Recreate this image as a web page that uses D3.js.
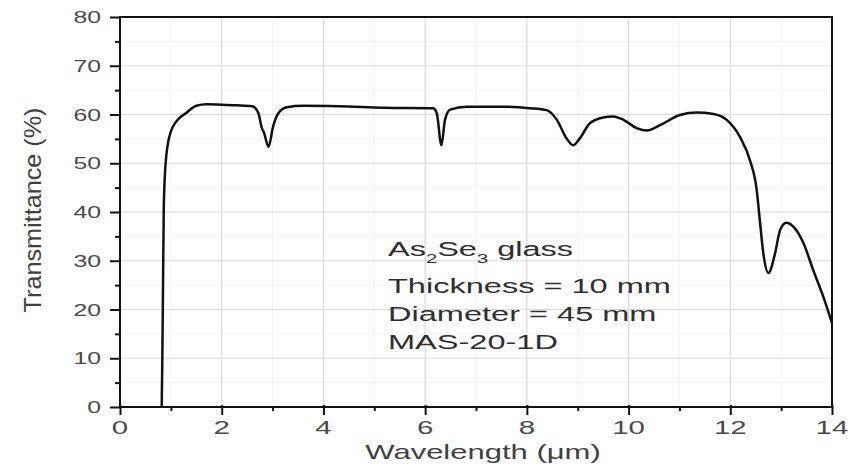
<!DOCTYPE html>
<html lang="en">
<head>
    <script src='https://d3js.org/d3.v7.min.js'></script>
</head>
<style>
  body { margin: 0; background: #fff; }
  text { font-family: "Liberation Sans", Arial, sans-serif; }
</style>
<body>
<script>
// Transmission spectrum, wavelength (um) vs transmittance (%)
const wavelength = [0.82, 0.83, 0.84, 0.85, 0.86, 0.88, 0.91, 0.95, 1.0, 1.1, 1.3, 1.5, 1.7, 2.0, 2.3, 2.6,
  2.72, 2.79, 2.83, 2.92, 3.01, 3.11, 3.28, 3.6, 4.3, 5.2, 6.16, 6.23, 6.32, 6.39, 6.49, 6.82, 7.5, 8.06,
  8.39, 8.59, 8.78, 8.91, 9.04, 9.24, 9.5, 9.7, 9.9, 10.16, 10.36, 10.62, 11.01, 11.34, 11.67, 11.93,
  12.19, 12.39, 12.52, 12.58, 12.65, 12.75, 12.88, 12.98, 13.1, 13.24, 13.44, 13.63, 13.83, 14.0];
const transmittance = [0, 8, 18, 30, 40, 47, 51.5, 54.5, 56.5, 58.5, 60.3, 61.8, 62.1, 62.0, 61.9, 61.7,
  60.3, 57.2, 56.3, 53.4, 57.5, 60.2, 61.5, 61.8, 61.7, 61.4, 61.3, 60.2, 53.7, 58.9, 61.0, 61.6, 61.6, 61.3,
  60.9, 58.9, 55.1, 53.7, 55.1, 58.2, 59.4, 59.6, 58.9, 57.2, 56.7, 57.8, 59.9, 60.4, 60.1, 58.9,
  55.4, 50.5, 44.5, 38.4, 31.5, 27.5, 31.5, 36.3, 37.8, 37.0, 33.6, 28.1, 22.6, 17.2];

const xTicks = [0, 2, 4, 6, 8, 10, 12, 14];
const yTicks = [0, 10, 20, 30, 40, 50, 60, 70, 80];
const noteLines = ["Thickness = 10 mm", "Diameter = 45 mm", "MAS-20-1D"];

const width = 854, height = 466;
const plotLeft = 120, plotRight = 832, plotTop = 17, plotBottom = 407;
const stretch = 1.55;

const svg = d3.select("body").append("svg")
  .attr("width", width)
  .attr("height", height);

const x = d3.scaleLinear().domain([0, 14]).range([plotLeft, plotRight]);
const y = d3.scaleLinear().domain([0, 80]).range([plotBottom, plotTop]);

// grid, faint minor lines first then major
const grid = svg.append("g");
d3.range(1, 14, 2).forEach(v => {
  grid.append("line").attr("x1", x(v)).attr("x2", x(v)).attr("y1", plotTop).attr("y2", plotBottom)
    .attr("stroke", "#f1f1f1").attr("stroke-width", 1);
});
d3.range(5, 80, 10).forEach(v => {
  grid.append("line").attr("x1", plotLeft).attr("x2", plotRight).attr("y1", y(v)).attr("y2", y(v))
    .attr("stroke", "#f1f1f1").attr("stroke-width", 1);
});
xTicks.slice(1, -1).forEach(v => {
  grid.append("line").attr("x1", x(v)).attr("x2", x(v)).attr("y1", plotTop).attr("y2", plotBottom)
    .attr("stroke", "#d9d9d9").attr("stroke-width", 1.2);
});
yTicks.slice(1, -1).forEach(v => {
  grid.append("line").attr("x1", plotLeft).attr("x2", plotRight).attr("y1", y(v)).attr("y2", y(v))
    .attr("stroke", "#d9d9d9").attr("stroke-width", 1.2);
});

// tick marks
const leftAxis = svg.append("g").attr("transform", `translate(${plotLeft},0)`)
  .call(d3.axisLeft(y).tickValues(d3.range(0, 81, 5)).tickSize(0).tickFormat(""));
leftAxis.select(".domain").remove();
leftAxis.selectAll(".tick line")
  .attr("x2", d => d % 10 === 0 ? -10 : -5)
  .attr("stroke", "#111").attr("stroke-width", 2);

const bottomAxis = svg.append("g").attr("transform", `translate(0,${plotBottom})`)
  .call(d3.axisBottom(x).tickValues(d3.range(0, 15, 1)).tickSize(0).tickFormat(""));
bottomAxis.select(".domain").remove();
bottomAxis.selectAll(".tick line")
  .attr("y1", d => d % 2 === 0 ? -2 : 0)
  .attr("y2", d => d % 2 === 0 ? 8 : 4)
  .attr("stroke", "#111").attr("stroke-width", 2);

// frame
svg.append("rect")
  .attr("x", plotLeft).attr("y", plotTop)
  .attr("width", plotRight - plotLeft).attr("height", plotBottom - plotTop)
  .attr("fill", "none").attr("stroke", "#111").attr("stroke-width", 2);

// tick labels
svg.append("g").selectAll("text").data(yTicks).join("text")
  .attr("transform", d => `translate(101,${y(d) + 6}) scale(${stretch},1)`)
  .attr("text-anchor", "end")
  .attr("font-size", 16)
  .attr("fill", "#4a4a4a")
  .text(d => d);

svg.append("g").selectAll("text").data(xTicks).join("text")
  .attr("transform", d => `translate(${x(d)},434) scale(${stretch},1)`)
  .attr("text-anchor", "middle")
  .attr("font-size", 19)
  .attr("fill", "#4a4a4a")
  .text(d => d);

// axis titles
svg.append("text")
  .attr("transform", `translate(483,459) scale(${stretch},1)`)
  .attr("text-anchor", "middle")
  .attr("font-size", 20)
  .attr("fill", "#404040")
  .text("Wavelength (\u03bcm)");

svg.append("text")
  .attr("transform", "translate(41,210) rotate(-90)")
  .attr("text-anchor", "middle")
  .attr("font-size", 24)
  .attr("fill", "#404040")
  .attr("textLength", 205)
  .attr("lengthAdjust", "spacingAndGlyphs")
  .text("Transmittance (%)");

// spectrum
const data = wavelength.map((w, i) => ({ w: w, t: transmittance[i] }));
svg.append("path")
  .datum(data)
  .attr("fill", "none")
  .attr("stroke", "#111")
  .attr("stroke-width", 2.5)
  .attr("stroke-linejoin", "round")
  .attr("d", d3.line().x(d => x(d.w)).y(d => y(d.t)).curve(d3.curveMonotoneX));

// sample description
const title = svg.append("text")
  .attr("transform", `translate(388,256) scale(${stretch},1)`)
  .attr("font-size", 21)
  .attr("fill", "#2e2e2e");
title.append("tspan").text("As");
title.append("tspan").attr("font-size", 13).attr("dy", 7).text("2");
title.append("tspan").attr("dy", -7).text("Se");
title.append("tspan").attr("font-size", 13).attr("dy", 7).text("3");
title.append("tspan").attr("dy", -7).text(" glass");

const baselines = [293, 321, 349];
svg.append("g").selectAll("text").data(noteLines).join("text")
  .attr("transform", (d, i) => `translate(388,${baselines[i]}) scale(${stretch},1)`)
  .attr("font-size", 21)
  .attr("fill", "#2e2e2e")
  .text(d => d);
</script>
</body>
</html>
